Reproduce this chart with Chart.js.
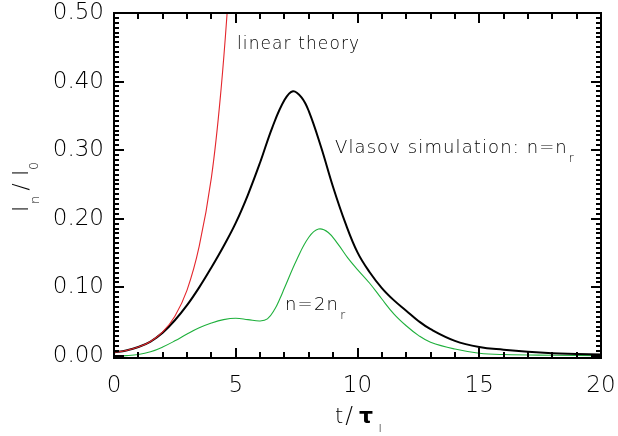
<!DOCTYPE html>
<html>
<head>
<meta charset="utf-8">
<script src="https://cdn.jsdelivr.net/npm/chart.js@4/dist/chart.umd.min.js"></script>
<style>
html,body{margin:0;padding:0;background:#fff;}
#wrap{width:618px;height:436px;}
</style>
</head>
<body>
<div id="wrap"><canvas id="c" width="618" height="436"></canvas></div>
<script>
// ---- data ----
const vlasovT = [0,0.5,1,1.5,2,2.5,3,3.5,4,4.5,5,5.5,6,6.5,7,7.35,7.7,8,8.5,9,9.5,10,10.5,11,11.5,12,12.5,13,14,15,16,17,18,19,20];
const vlasovI = [0.005,0.008,0.013,0.021,0.034,0.052,0.074,0.100,0.129,0.16,0.194,0.235,0.282,0.333,0.373,0.386,0.377,0.357,0.305,0.246,0.194,0.151,0.122,0.099,0.081,0.066,0.051,0.039,0.022,0.013,0.009,0.006,0.004,0.003,0.002];

const harmT = [0,0.5,1,1.5,2,2.5,3,3.5,4,4.5,5,5.5,6,6.3,6.6,6.82,7,7.5,8,8.4,8.8,9.2,9.6,10,10.5,11,11.5,12,12.5,13,14,15,16,18,20];
const harmI = [0.0,0.0005,0.002,0.006,0.013,0.022,0.032,0.041,0.048,0.053,0.055,0.053,0.051,0.054,0.068,0.084,0.099,0.14,0.173,0.185,0.180,0.163,0.143,0.126,0.106,0.083,0.061,0.044,0.030,0.020,0.010,0.004,0.002,0.001,0.0005];

const linT = [0,0.5,1,1.5,2,2.5,3,3.5,4,4.4,4.75];
const linI = [0.005,0.008,0.013,0.021,0.035,0.058,0.096,0.16,0.26,0.39,0.55];

const xTicks = [0,5,10,15,20];
const yTicks = [0,0.1,0.2,0.3,0.4,0.5];
const xMinorStep = 1;
const yMinorPerMajor = 14;
const xRange = [0,20];
const yRange = [-0.003,0.5];

const labelLinear = 'linear theory';
const labelVlasov = 'Vlasov simulation: n=n';
const labelHarm = 'n=2n';

// ---- drawing ----
const FONT = "'DejaVu Sans', 'DejaVu Sans ExtraLight', sans-serif";
const pts = (t, v) => t.map((x, i) => ({x: x, y: v[i]}));

function richText(ctx, parts, x, y) {
  parts.forEach(p => {
    ctx.font = (p.w || 200) + ' ' + p.s + 'px ' + FONT;
    ctx.textAlign = 'center';
    ctx.textBaseline = 'alphabetic';
    ctx.fillText(p.t, x + p.dx, y + (p.dy || 0));
  });
}

function drawLabel(ctx, text, sub, x, y, size, spacing) {
  ctx.textAlign = 'left';
  ctx.textBaseline = 'alphabetic';
  ctx.letterSpacing = spacing + 'px';
  ctx.font = '200 ' + size + 'px ' + FONT;
  ctx.fillText(text, x, y);
  const w = ctx.measureText(text).width;
  ctx.letterSpacing = '0px';
  if (sub) {
    ctx.font = '200 12px ' + FONT;
    ctx.fillText(sub, x + w + 1, y + 9);
  }
}

// tick marks (inward, on all four sides) and the frame
const frame = {
  id: 'frame',
  afterDraw(chart) {
    const ctx = chart.ctx, a = chart.chartArea;
    const L = Math.round(a.left), R = Math.round(a.right), T = Math.round(a.top), B = Math.round(a.bottom);
    const W = R - L, H = B - T;
    ctx.save();
    ctx.fillStyle = '#000000';
    const nx = Math.round((xRange[1] - xRange[0]) / xMinorStep);
    for (let i = 0; i <= nx; i++) {
      const t = xRange[0] + i * xMinorStep;
      const px = Math.round(L + (t - xRange[0]) / (xRange[1] - xRange[0]) * W);
      const len = xTicks.indexOf(t) >= 0 ? 10 : 6;
      ctx.fillRect(px - 1, B - len, 2, len);
      ctx.fillRect(px - 1, T, 2, len);
    }
    for (let k = -1; k <= 5 * yMinorPerMajor; k++) {
      const v = k * 0.1 / yMinorPerMajor;
      if (v < yRange[0] || v > yRange[1] + 1e-9) continue;
      const py = Math.round(B - (v - yRange[0]) / (yRange[1] - yRange[0]) * H);
      const len = (k % yMinorPerMajor === 0) ? 10 : 5;
      ctx.fillRect(L, py - 1, len, 2);
      ctx.fillRect(R - len, py - 1, len, 2);
    }
    ctx.fillRect(L - 1, T - 1, W + 2, 2);
    ctx.fillRect(L - 1, B - 1, W + 2, 2);
    ctx.fillRect(L - 1, T - 1, 2, H + 2);
    ctx.fillRect(R - 1, T - 1, 2, H + 2);

    // annotations
    drawLabel(ctx, labelLinear, '', 237, 49, 17, 1.1);
    drawLabel(ctx, labelVlasov, 'r', 335, 153, 18, 1.1);
    drawLabel(ctx, labelHarm, 'r', 285, 310, 18, 1.2);

    // x title  t/τ_I
    richText(ctx, [
      {t: 't', s: 21, dx: 0},
      {t: '/', s: 23, dx: 10},
      {t: 'τ', s: 22, dx: 27, w: 700},
      {t: 'I', s: 11, dx: 41, dy: 9}
    ], 339, 423);

    // y title  I_n/I_0 (rotated)
    ctx.save();
    ctx.translate(28, 212);
    ctx.rotate(-Math.PI / 2);
    richText(ctx, [
      {t: 'I', s: 21, dx: 3},
      {t: 'n', s: 13, dx: 12, dy: 11},
      {t: '/', s: 21, dx: 25},
      {t: 'I', s: 21, dx: 39},
      {t: '0', s: 12, dx: 46, dy: 10}
    ], 0, 0);
    ctx.restore();
    ctx.restore();
  }
};

new Chart(document.getElementById('c'), {
  type: 'scatter',
  data: {
    datasets: [
      {data: pts(linT, linI), showLine: true, borderColor: '#e4262c', borderWidth: 1.1, pointRadius: 0, tension: 0.4},
      {data: pts(vlasovT, vlasovI), showLine: true, borderColor: '#000000', borderWidth: 2, pointRadius: 0, tension: 0.4},
      {data: pts(harmT, harmI), showLine: true, borderColor: '#1fb03c', borderWidth: 1.1, pointRadius: 0, tension: 0.4}
    ]
  },
  options: {
    responsive: false,
    animation: false,
    events: [],
    layout: {padding: {top: 13, right: 17, left: 0, bottom: 0}},
    plugins: {legend: {display: false}, tooltip: {enabled: false}},
    scales: {
      x: {
        type: 'linear', min: xRange[0], max: xRange[1],
        grid: {display: false, drawTicks: false},
        border: {display: false},
        afterBuildTicks: s => { s.ticks = xTicks.map(v => ({value: v})); },
        afterFit: s => { s.height = 78; s.paddingLeft = 0; s.paddingRight = 0; },
        ticks: {padding: 14, color: '#000', font: {family: FONT, size: 23, weight: 200}, callback: v => String(v), maxRotation: 0, autoSkip: false}
      },
      y: {
        type: 'linear', min: yRange[0], max: yRange[1],
        grid: {display: false, drawTicks: false},
        border: {display: false},
        afterBuildTicks: s => { s.ticks = yTicks.map(v => ({value: v})); },
        afterFit: s => { s.width = 114; s.paddingTop = 0; s.paddingBottom = 0; },
        ticks: {padding: 10, color: '#000', font: {family: FONT, size: 23, weight: 200}, callback: v => Number(v).toFixed(2), autoSkip: false}
      }
    }
  },
  plugins: [frame]
});
</script>
</body>
</html>
